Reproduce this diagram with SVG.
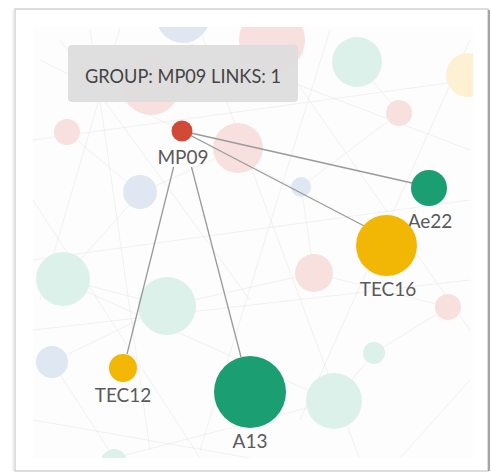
<svg xmlns="http://www.w3.org/2000/svg" width="492" height="473" viewBox="0 0 492 473">
<defs>
<style>
.lbl{font-family:Lato,"Source Sans Pro","Liberation Sans",sans-serif;font-size:19px;fill:#5a5a5a;text-anchor:middle}
.tip{font-family:Lato,"Liberation Sans",sans-serif;font-size:19.5px;fill:#444}
.bg line{stroke:#dddddd;stroke-width:1;opacity:0.35}
.edge{stroke:#9a9a9a;stroke-width:1.3;fill:none}
.fr{fill:#dcf1ea}
.fp{fill:#f7e0dd}
.fb{fill:#dfe7f2}
.fy{fill:#fdf0d3}
</style>
<clipPath id="area"><rect x="33" y="27" width="440" height="431"/></clipPath>
</defs>
<rect width="492" height="473" fill="#ffffff"/>
<rect x="15" y="9" width="473" height="462" fill="#ffffff" stroke="#d2d2d2" stroke-width="1.5"/>
<line x1="13.5" y1="10" x2="13.5" y2="471" stroke="#ececec" stroke-width="2"/>
<line x1="489" y1="10" x2="489" y2="471" stroke="#a4a4a4" stroke-width="2"/>
<g clip-path="url(#area)">
<rect x="33" y="27" width="440" height="431" fill="#fdfdfd"/>
<g class="bg">
<line x1="40" y1="60" x2="300" y2="190"/>
<line x1="60" y1="40" x2="250" y2="300"/>
<line x1="33" y1="140" x2="470" y2="80"/>
<line x1="90" y1="30" x2="150" y2="450"/>
<line x1="120" y1="28" x2="40" y2="300"/>
<line x1="200" y1="30" x2="360" y2="460"/>
<line x1="260" y1="30" x2="470" y2="330"/>
<line x1="330" y1="30" x2="200" y2="450"/>
<line x1="470" y1="40" x2="300" y2="420"/>
<line x1="33" y1="260" x2="470" y2="200"/>
<line x1="33" y1="330" x2="470" y2="280"/>
<line x1="60" y1="280" x2="330" y2="400"/>
<line x1="63" y1="279" x2="167" y2="306"/>
<line x1="52" y1="362" x2="167" y2="306"/>
<line x1="167" y1="306" x2="314" y2="273"/>
<line x1="314" y1="273" x2="448" y2="307"/>
<line x1="374" y1="353" x2="334" y2="401"/>
<line x1="374" y1="353" x2="448" y2="307"/>
<line x1="140" y1="193" x2="63" y2="279"/>
<line x1="140" y1="193" x2="238" y2="148"/>
<line x1="67" y1="132" x2="140" y2="193"/>
<line x1="357" y1="62" x2="399" y2="113"/>
<line x1="399" y1="113" x2="301" y2="187"/>
<line x1="301" y1="187" x2="314" y2="273"/>
<line x1="114" y1="458" x2="52" y2="362"/>
<line x1="114" y1="458" x2="334" y2="401"/>
<line x1="33" y1="420" x2="250" y2="458"/>
<line x1="400" y1="458" x2="470" y2="380"/>
<line x1="180" y1="40" x2="470" y2="150"/>
<line x1="33" y1="200" x2="200" y2="458"/>
</g>
<g id="background-nodes">
<circle cx="183" cy="16" r="27" class="fb"/>
<circle cx="272" cy="40" r="33" class="fp"/>
<circle cx="151" cy="86" r="29" class="fp"/>
<circle cx="357" cy="62" r="25" class="fr"/>
<circle cx="468" cy="75" r="22" class="fy"/>
<circle cx="399" cy="113" r="13" class="fp"/>
<circle cx="67" cy="132" r="13" class="fp"/>
<circle cx="238" cy="148" r="25" class="fp"/>
<circle cx="140" cy="192" r="17" class="fb"/>
<circle cx="301" cy="187" r="10" class="fb"/>
<circle cx="63" cy="279" r="27" class="fr"/>
<circle cx="167" cy="306" r="29" class="fr"/>
<circle cx="314" cy="273" r="19" class="fp"/>
<circle cx="448" cy="307" r="13" class="fp"/>
<circle cx="52" cy="362" r="16" class="fb"/>
<circle cx="374" cy="353" r="11" class="fr"/>
<circle cx="334" cy="401" r="28" class="fr"/>
<circle cx="114" cy="462" r="13" class="fr"/>
</g>
</g>
<g id="connectors">
<line class="edge" x1="182" y1="131" x2="412" y2="183"/>
<line class="edge" x1="182" y1="131" x2="370" y2="229"/>
<line class="edge" x1="173.6" y1="167" x2="127" y2="354"/>
<line class="edge" x1="191.5" y1="167" x2="241" y2="357"/>
</g>
<g id="node-MP09">
<circle cx="182" cy="131" r="10.5" fill="#d04a37"/>
<text class="lbl" x="183" y="164">MP09</text>
</g>
<g id="node-Ae22">
<circle cx="429" cy="188" r="18" fill="#1a9e72"/>
<text class="lbl" x="430" y="228">Ae22</text>
</g>
<g id="node-TEC16">
<circle cx="386.5" cy="245.5" r="30.5" fill="#f2b705"/>
<text class="lbl" x="388" y="296">TEC16</text>
</g>
<g id="node-TEC12">
<circle cx="123" cy="368" r="14" fill="#f2b705"/>
<text class="lbl" x="123" y="402">TEC12</text>
</g>
<g id="node-A13">
<circle cx="250" cy="392" r="36" fill="#1a9e72"/>
<text class="lbl" x="250" y="448">A13</text>
</g>
<g id="tooltip">
<rect x="68" y="45" width="230" height="57" rx="4" fill="#dcdcdc" opacity="0.92"/>
<text class="tip" x="85" y="83" textLength="196" lengthAdjust="spacingAndGlyphs">GROUP: MP09 LINKS: 1</text>
</g>
</svg>
